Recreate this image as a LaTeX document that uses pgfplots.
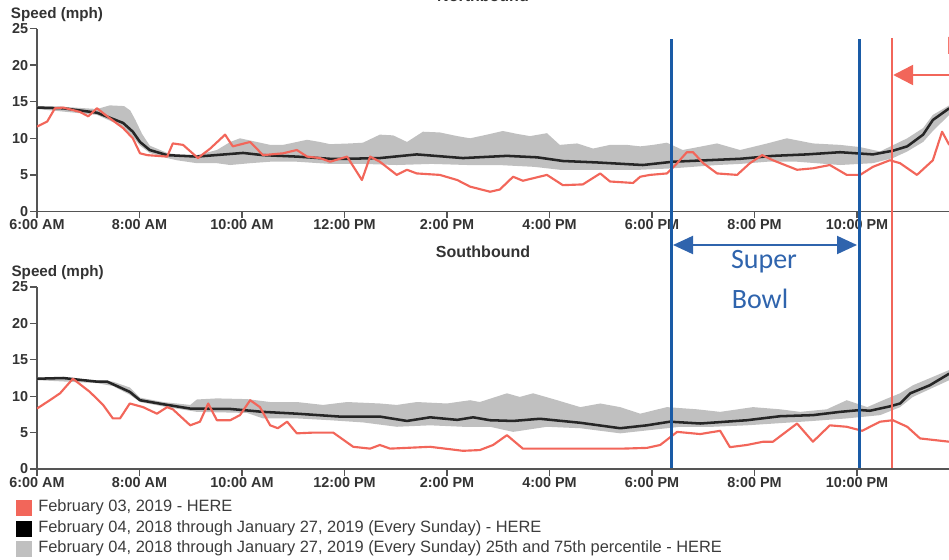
\documentclass[border=0pt]{standalone}
\usepackage{pgfplots}
\pgfplotsset{compat=1.18}
\usepackage{pgfplotstable}
\usetikzlibrary{arrows.meta}
\usepackage{fontspec}
\setmainfont{Liberation Sans}
\newfontfamily\calibri{Carlito}
\definecolor{hred}{HTML}{F2665A}
\definecolor{hblack}{HTML}{262626}
\definecolor{hgray}{HTML}{C0C0C0}
\definecolor{hblue}{HTML}{1A5BA6}
\definecolor{sbblue}{HTML}{2F64AD}
\definecolor{txt}{HTML}{333333}
\definecolor{legtxt}{HTML}{3C3C3C}
\definecolor{axcol}{HTML}{555555}

% ---------- Northbound ----------
\pgfplotstableread{
h v
6.00 14.2
6.51 14.1
7.17 13.5
7.68 12.1
7.87 10.9
8.01 9.5
8.20 8.4
8.54 7.7
9.12 7.5
10.02 8.0
10.41 7.7
11.07 7.5
11.72 7.2
12.05 7.2
12.69 7.3
13.41 7.8
14.31 7.3
15.17 7.6
15.76 7.4
16.26 6.9
16.93 6.7
17.82 6.35
18.41 6.8
19.72 7.2
20.36 7.6
21.02 7.8
21.67 8.1
22.31 7.8
22.70 8.3
22.98 8.9
23.29 10.5
23.48 12.5
23.80 14.1
}\nbmean

% 75th percentile (left to right), then 25th percentile (right to left)
\pgfplotstableread{
h v
6.00 14.4
6.51 14.3
7.17 14.0
7.42 14.5
7.70 14.4
7.82 13.8
7.92 12.5
8.05 10.6
8.20 9.0
8.54 8.0
8.73 7.8
9.12 7.7
9.51 8.4
9.77 9.5
9.96 10.0
10.29 9.5
10.55 9.1
10.80 9.1
11.07 9.5
11.27 9.8
11.52 9.5
11.72 9.2
12.11 9.3
12.36 9.4
12.69 10.5
12.95 10.4
13.22 9.5
13.53 10.9
13.86 10.8
14.20 10.3
14.45 10.0
14.78 10.5
15.09 11.0
15.37 10.6
15.62 10.3
15.95 10.7
16.20 9.1
16.54 9.3
16.85 8.6
17.18 9.1
17.51 9.1
17.77 8.9
18.02 9.1
18.29 9.4
18.60 8.4
19.27 9.3
19.72 8.4
20.25 9.3
20.63 10.0
21.14 9.3
21.67 9.1
22.06 8.8
22.45 8.2
22.98 10.0
23.29 11.4
23.48 13.2
23.80 14.5
23.80 13.2
23.48 11.0
23.29 9.5
22.98 8.2
22.70 7.3
22.31 6.6
21.67 6.35
20.83 6.8
20.25 6.8
19.72 6.5
19.27 6.35
18.41 5.9
17.77 5.7
17.00 5.7
16.20 5.7
15.70 6.1
15.00 6.35
14.40 6.35
13.70 6.5
13.02 6.35
12.36 6.5
11.72 6.5
11.07 6.8
10.55 6.8
10.16 6.6
9.77 6.35
9.51 6.6
9.12 6.6
8.73 7.0
8.54 7.3
8.20 8.0
8.01 9.0
7.87 10.2
7.68 11.6
7.17 13.2
6.00 14.0
}\nbband

\pgfplotstableread{
h v
6.00 11.6
6.20 12.3
6.35 14.1
6.51 14.2
6.84 13.6
7.00 13.0
7.17 14.1
7.37 13.0
7.68 11.4
7.87 10.0
8.01 7.95
8.15 7.7
8.54 7.5
8.65 9.3
8.85 9.1
9.14 7.3
9.38 8.6
9.67 10.5
9.82 8.9
10.16 9.5
10.41 7.7
10.80 7.95
11.07 8.4
11.27 7.5
11.52 7.3
11.72 6.8
12.05 7.5
12.34 4.3
12.50 7.5
12.69 6.8
13.02 5.0
13.22 5.7
13.41 5.2
13.86 5.0
14.20 4.3
14.45 3.4
14.84 2.7
15.03 3.0
15.29 4.75
15.48 4.2
15.95 5.0
16.26 3.6
16.65 3.7
16.99 5.2
17.18 4.1
17.63 3.9
17.77 4.75
17.96 5.0
18.29 5.2
18.49 6.6
18.68 8.1
18.80 8.1
19.00 6.6
19.27 5.2
19.66 5.0
19.91 6.6
20.15 7.7
20.36 7.0
20.83 5.7
21.14 5.9
21.47 6.35
21.80 5.0
22.06 5.0
22.31 6.1
22.64 7.0
22.84 6.6
23.17 5.0
23.48 7.0
23.66 10.9
23.80 9.1
}\nbday

% ---------- Southbound ----------
\pgfplotstableread{
h v
6.00 12.4
6.51 12.5
7.17 12.0
7.37 12.0
7.81 10.6
8.01 9.45
8.46 8.9
8.99 8.3
9.77 8.25
10.41 7.85
11.07 7.6
11.91 7.2
12.69 7.2
13.22 6.6
13.67 7.1
14.20 6.75
14.51 7.1
14.84 6.7
15.29 6.6
15.81 6.9
16.60 6.35
17.38 5.6
17.90 6.0
18.35 6.5
18.94 6.25
19.85 6.7
20.50 7.25
21.14 7.4
21.67 7.85
22.06 8.1
22.25 8.0
22.64 8.6
22.84 9.0
23.04 10.4
23.42 11.5
23.80 13.1
}\sbmean

\pgfplotstableread{
h v
6.00 12.6
7.17 12.2
7.48 12.0
7.81 11.2
8.01 9.8
8.46 9.2
8.99 8.8
9.12 9.55
9.51 9.7
10.10 9.6
10.55 9.2
11.07 9.2
11.58 8.8
12.05 9.2
12.69 9.0
13.02 8.8
13.41 9.2
14.00 9.0
14.45 9.45
14.64 9.2
15.17 10.4
15.42 9.9
15.68 10.4
16.15 9.45
16.60 8.5
16.99 9.0
17.38 8.5
17.77 7.6
18.29 8.5
18.88 8.2
19.33 7.85
19.97 8.5
20.50 8.2
20.89 7.85
21.41 8.2
21.80 9.45
22.20 8.5
22.51 9.45
22.84 10.4
23.09 11.5
23.80 13.6
23.80 12.2
23.09 9.9
22.84 8.5
22.45 7.4
21.80 6.95
21.14 6.6
20.50 6.3
19.85 6.0
19.19 5.8
18.55 5.8
17.90 5.3
17.38 4.9
16.60 5.6
15.95 5.8
15.29 5.1
14.84 5.8
14.31 5.8
13.67 6.0
13.02 5.8
12.36 6.4
11.72 6.7
11.07 6.95
10.41 6.95
10.10 7.7
9.12 7.85
8.99 8.0
8.46 8.6
8.01 9.2
7.81 10.2
7.48 11.4
7.17 11.8
6.00 12.2
}\sbband

\pgfplotstableread{
h v
6.00 8.3
6.25 9.45
6.45 10.4
6.70 12.4
7.03 10.6
7.29 8.8
7.48 6.95
7.62 6.95
7.81 9.0
8.07 8.5
8.34 7.6
8.54 8.5
8.65 8.2
8.99 6.0
9.18 6.5
9.34 9.0
9.51 6.7
9.77 6.7
9.96 7.4
10.16 9.45
10.35 8.5
10.55 6.0
10.70 5.6
10.88 6.5
11.07 4.9
11.39 5.0
11.78 5.0
12.17 3.05
12.50 2.8
12.69 3.3
12.89 2.8
13.67 3.05
14.31 2.5
14.64 2.6
14.90 3.3
15.17 4.65
15.48 2.8
16.60 2.8
17.43 2.8
17.90 2.9
18.16 3.3
18.49 5.1
18.94 4.8
19.33 5.25
19.52 3.0
19.85 3.3
20.17 3.75
20.36 3.75
20.83 6.25
21.14 3.75
21.47 6.0
21.80 5.8
22.10 5.25
22.45 6.5
22.70 6.7
22.98 5.8
23.23 4.2
23.48 4.0
23.80 3.75
}\sbday

\pgfplotsset{
  speedaxis/.style={
    scale only axis, width=691.875pt, anchor=south west,
    xmin=6, xmax=24, ymin=0, ymax=25,
    axis lines=left,
    axis line style={-, draw=axcol, line width=1.1pt},
    tick align=outside, major tick length=5pt,
    tick style={draw=axcol, line width=1pt},
    xtick={6,8,...,22}, ytick={0,5,...,25},
    xticklabels={6:00 AM,8:00 AM,10:00 AM,12:00 PM,2:00 PM,4:00 PM,6:00 PM,8:00 PM,10:00 PM},
    ticklabel style={font=\bfseries\fontsize{10.8}{12}\selectfont, text=txt},
    /pgf/number format/assume math mode=true,
    xticklabel style={inner sep=1pt},
    yticklabel style={inner sep=1.5pt},
  }
}

\begin{document}
\begin{tikzpicture}
\begin{axis}[speedaxis, at={(27.75pt,-158.625pt)}, height=137.25pt]
\addplot[fill=hgray, draw=none] table {\nbband} -- cycle;
\addplot[hblack, line width=1.9pt, line join=round] table {\nbmean};
\addplot[hred, line width=1.6pt, line join=round] table {\nbday};
\end{axis}

\begin{axis}[speedaxis, at={(27.75pt,-351.75pt)}, height=136.5pt]
\addplot[fill=hgray, draw=none] table {\sbband} -- cycle;
\addplot[hblack, line width=1.9pt, line join=round] table {\sbmean};
\addplot[hred, line width=1.6pt, line join=round] table {\sbday};
\end{axis}

% legend
\fill[hred] (12pt,-375pt) rectangle (24pt,-387pt);
\fill[black] (12pt,-390.4pt) rectangle (24pt,-402.4pt);
\fill[hgray] (12pt,-405.75pt) rectangle (24pt,-417.75pt);
\begin{scope}[every node/.style={font=\fontsize{12.3}{14}\selectfont, text=legtxt, anchor=mid west, inner sep=0pt}]
\node at (28.5pt,-381pt) {February 03, 2019 - HERE};
\node at (28.5pt,-396.4pt) {February 04, 2018 through January 27, 2019 (Every Sunday) - HERE};
\node at (28.5pt,-411.75pt) {February 04, 2018 through January 27, 2019 (Every Sunday) 25th and 75th percentile - HERE};
\end{scope}

% titles and axis labels
\node[font=\bfseries\fontsize{12}{14}\selectfont, text=txt, anchor=base] at (362.25pt,-1.5pt) {Northbound};
\node[font=\bfseries\fontsize{12}{14}\selectfont, text=txt, anchor=base] at (362.25pt,-193pt) {Southbound};
\node[font=\bfseries\fontsize{11.4}{13}\selectfont, text=txt, anchor=base west, inner sep=0pt] at (8pt,-13.75pt) {Speed (mph)};
\node[font=\bfseries\fontsize{11.4}{13}\selectfont, text=txt, anchor=base west, inner sep=0pt] at (8.5pt,-207.4pt) {Speed (mph)};

% annotations
\draw[hblue, line width=2.25pt] (503.25pt,-29.5pt) -- (503.25pt,-351pt);
\draw[hblue, line width=2.25pt] (644.25pt,-29.5pt) -- (644.25pt,-351pt);
\draw[hred, line width=1.9pt] (669pt,-28.5pt) -- (669pt,-351pt);
\draw[hred, line width=1.8pt, {Triangle[length=15pt,width=15pt]}-] (669.9pt,-56.25pt) -- (712pt,-56.25pt);
\node[hred, font=\calibri\fontsize{20}{22}\selectfont, anchor=base west, inner sep=0pt] at (709.5pt,-41.25pt) {E};
\draw[sbblue, line width=1.5pt, {Triangle[length=15pt,width=13.5pt]}-{Triangle[length=15pt,width=13.5pt]}] (504.75pt,-183.75pt) -- (642.75pt,-183.75pt);
\node[sbblue, font=\calibri\fontsize{21}{24}\selectfont, anchor=base] at (573pt,-201pt) {Super};
\node[sbblue, font=\calibri\fontsize{21}{24}\selectfont, anchor=base] at (570pt,-231.25pt) {Bowl};

\pgfresetboundingbox
\useasboundingbox (0pt,0pt) rectangle (711.75pt,-420pt);
\end{tikzpicture}
\end{document}
